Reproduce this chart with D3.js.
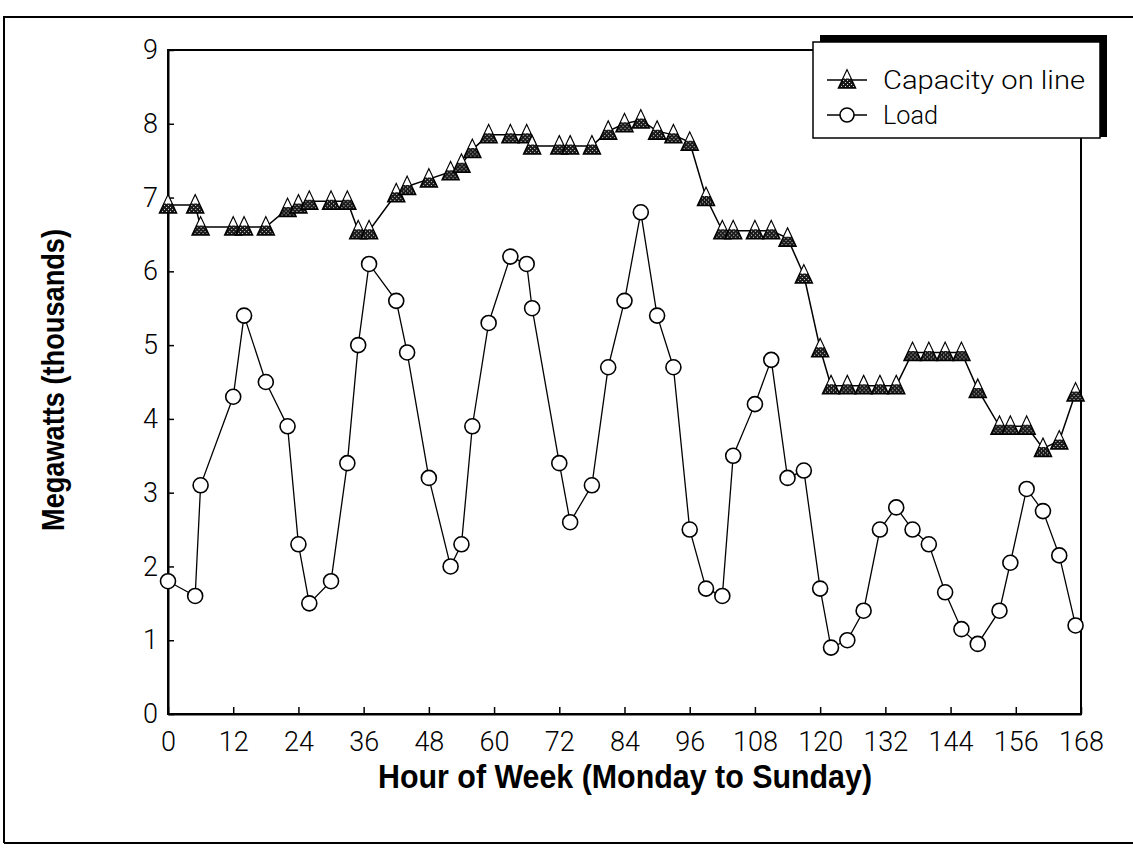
<!DOCTYPE html>
<html>
<head>
<meta charset="utf-8">
<script src="https://cdn.jsdelivr.net/npm/d3@7"></script>
<style>
  body { margin: 0; background: #fff; }
  svg { display: block; }
</style>
</head>
<body>
<div id="chart"></div>
<script>
// horas da semana (mesmas para as duas séries)
const hours = [0, 5, 6, 12, 14, 18, 22, 24, 26, 30, 33, 35, 37, 42, 44, 48, 52, 54, 56,
  59, 63, 66, 67, 72, 74, 78, 81, 84, 87, 90, 93, 96, 99, 102, 104, 108, 111, 114,
  117, 120, 122, 125, 128, 131, 134, 137, 140, 143, 146, 149, 153, 155, 158, 161, 164, 167];

const capacity = [6.9, 6.9, 6.6, 6.6, 6.6, 6.6, 6.85, 6.9, 6.95, 6.95, 6.95, 6.55, 6.55, 7.05, 7.15, 7.25, 7.35, 7.45, 7.65,
  7.85, 7.85, 7.85, 7.7, 7.7, 7.7, 7.7, 7.9, 8.0, 8.05, 7.9, 7.85, 7.75, 7.0, 6.55, 6.55, 6.55, 6.55, 6.45,
  5.95, 4.95, 4.45, 4.45, 4.45, 4.45, 4.45, 4.9, 4.9, 4.9, 4.9, 4.4, 3.9, 3.9, 3.9, 3.6, 3.7, 4.35];

const load = [1.8, 1.6, 3.1, 4.3, 5.4, 4.5, 3.9, 2.3, 1.5, 1.8, 3.4, 5.0, 6.1, 5.6, 4.9, 3.2, 2.0, 2.3, 3.9,
  5.3, 6.2, 6.1, 5.5, 3.4, 2.6, 3.1, 4.7, 5.6, 6.8, 5.4, 4.7, 2.5, 1.7, 1.6, 3.5, 4.2, 4.8, 3.2,
  3.3, 1.7, 0.9, 1.0, 1.4, 2.5, 2.8, 2.5, 2.3, 1.65, 1.15, 0.95, 1.4, 2.05, 3.05, 2.75, 2.15, 1.2];

const xTicks = [0, 12, 24, 36, 48, 60, 72, 84, 96, 108, 120, 132, 144, 156, 168];
const yTicks = [0, 1, 2, 3, 4, 5, 6, 7, 8, 9];

const seriesNames = ["Capacity on line", "Load"];
const xTitle = "Hour of Week (Monday to Sunday)";
const yTitle = "Megawatts (thousands)";

const width = 1133;
const height = 848;
const margin = { top: 50, right: 52, bottom: 134, left: 168 };
const fontTicks = "Roboto, 'Liberation Sans', sans-serif";
const fontTitle = "'Liberation Sans Narrow', 'Liberation Sans', sans-serif";

const svg = d3
  .select("#chart")
  .append("svg")
  .attr("width", width)
  .attr("height", height);

// padrão escuro pontilhado dos triângulos
const defs = svg.append("defs");
const pat = defs
  .append("pattern")
  .attr("id", "hatch")
  .attr("width", 4)
  .attr("height", 4)
  .attr("patternUnits", "userSpaceOnUse");
pat.append("rect").attr("width", 4).attr("height", 4).attr("fill", "#1a1a1a");
pat.append("rect").attr("x", 0).attr("y", 0).attr("width", 1).attr("height", 1).attr("fill", "#ddd");
pat.append("rect").attr("x", 2).attr("y", 2).attr("width", 1).attr("height", 1).attr("fill", "#ddd");

// moldura externa (digitalizada)
svg
  .append("path")
  .attr("d", `M4,843 V17 H${width}`)
  .attr("fill", "none")
  .attr("stroke", "#000")
  .attr("stroke-width", 2);
svg
  .append("line")
  .attr("x1", 4)
  .attr("x2", width)
  .attr("y1", 843)
  .attr("y2", 843)
  .attr("stroke", "#000")
  .attr("stroke-width", 2);

const x = d3
  .scaleLinear()
  .domain([0, 168])
  .range([margin.left, width - margin.right]);
const y = d3
  .scaleLinear()
  .domain([0, 9])
  .range([height - margin.bottom, margin.top]);

// caixa do gráfico
svg
  .append("rect")
  .attr("x", x(0))
  .attr("y", y(9))
  .attr("width", x(168) - x(0))
  .attr("height", y(0) - y(9))
  .attr("fill", "none")
  .attr("stroke", "#000")
  .attr("stroke-width", 2);

const xAxis = svg
  .append("g")
  .attr("transform", `translate(0,${y(0)})`)
  .call(d3.axisBottom(x).tickValues(xTicks).tickSizeInner(-7).tickSizeOuter(0).tickPadding(18));
xAxis.select(".domain").attr("stroke-width", 2);
xAxis.selectAll(".tick line").attr("stroke-width", 1.5);
xAxis
  .selectAll("text")
  .attr("font-family", fontTicks)
  .attr("font-weight", 300)
  .attr("font-size", 27)
  .attr("fill", "#000");

const yAxis = svg
  .append("g")
  .attr("transform", `translate(${x(0)},0)`)
  .call(d3.axisLeft(y).tickValues(yTicks).tickSizeInner(-6).tickSizeOuter(0).tickPadding(10));
yAxis.select(".domain").attr("stroke-width", 2);
yAxis.selectAll(".tick line").attr("stroke-width", 1.5);
yAxis
  .selectAll("text")
  .attr("font-family", fontTicks)
  .attr("font-weight", 300)
  .attr("font-size", 27)
  .attr("fill", "#000");

// títulos dos eixos
svg
  .append("text")
  .attr("x", 625)
  .attr("y", 788)
  .attr("text-anchor", "middle")
  .attr("font-family", fontTitle)
  .attr("font-weight", "bold")
  .attr("font-size", 33)
  .attr("textLength", 494)
  .attr("lengthAdjust", "spacingAndGlyphs")
  .text(xTitle);

svg
  .append("text")
  .attr("transform", "translate(64,380) rotate(-90)")
  .attr("text-anchor", "middle")
  .attr("font-family", fontTitle)
  .attr("font-weight", "bold")
  .attr("font-size", 32)
  .attr("textLength", 302)
  .attr("lengthAdjust", "spacingAndGlyphs")
  .text(yTitle);

const capData = hours.map((h, i) => ({ h: h, v: capacity[i] }));
const loadData = hours.map((h, i) => ({ h: h, v: load[i] }));

const line = d3
  .line()
  .x((d) => x(d.h))
  .y((d) => y(d.v));

svg
  .append("path")
  .datum(capData)
  .attr("d", line)
  .attr("fill", "none")
  .attr("stroke", "#000")
  .attr("stroke-width", 1.5);

svg
  .append("path")
  .datum(loadData)
  .attr("d", line)
  .attr("fill", "none")
  .attr("stroke", "#000")
  .attr("stroke-width", 1.3);

const triangle = "M0,-10 L8.5,8 L-8.5,8 Z";
const triangleCap = "M0,-9 L3.6,-1.5 L-3.6,-1.5 Z";

const drawTriangle = (sel) => {
  sel
    .append("path")
    .attr("d", triangle)
    .attr("fill", "url(#hatch)")
    .attr("stroke", "#000")
    .attr("stroke-width", 1.5)
    .attr("stroke-linejoin", "miter");
  sel.append("path").attr("d", triangleCap).attr("fill", "#fff");
};

svg
  .append("g")
  .selectAll("g")
  .data(capData)
  .enter()
  .append("g")
  .attr("transform", (d) => `translate(${x(d.h)},${y(d.v)})`)
  .call(drawTriangle);

svg
  .append("g")
  .selectAll("circle")
  .data(loadData)
  .enter()
  .append("circle")
  .attr("cx", (d) => x(d.h))
  .attr("cy", (d) => y(d.v))
  .attr("r", 7.5)
  .attr("fill", "#fff")
  .attr("stroke", "#000")
  .attr("stroke-width", 1.6);

// legenda com sombra no canto superior direito
const legend = svg.append("g").attr("transform", "translate(813,42)");
legend
  .append("rect")
  .attr("x", 7)
  .attr("y", -7)
  .attr("width", 287)
  .attr("height", 102)
  .attr("fill", "#000");
legend
  .append("rect")
  .attr("x", 0)
  .attr("y", 0)
  .attr("width", 287)
  .attr("height", 96)
  .attr("fill", "#fff")
  .attr("stroke", "#000")
  .attr("stroke-width", 1.5);

const rows = [
  { name: seriesNames[0], y: 38, w: 202 },
  { name: seriesNames[1], y: 73, w: 55 },
];

rows.forEach((r, i) => {
  legend
    .append("line")
    .attr("x1", 14)
    .attr("x2", 54)
    .attr("y1", r.y)
    .attr("y2", r.y)
    .attr("stroke", "#000")
    .attr("stroke-width", 1.4);
  if (i === 0) {
    legend.append("g").attr("transform", `translate(34,${r.y})`).call(drawTriangle);
  } else {
    legend
      .append("circle")
      .attr("cx", 34)
      .attr("cy", r.y)
      .attr("r", 7)
      .attr("fill", "#fff")
      .attr("stroke", "#000")
      .attr("stroke-width", 1.6);
  }
  legend
    .append("text")
    .attr("x", 70)
    .attr("y", r.y)
    .attr("dy", "0.36em")
    .attr("font-family", fontTicks)
    .attr("font-weight", 300)
    .attr("font-size", 26)
    .attr("textLength", r.w)
    .attr("lengthAdjust", "spacingAndGlyphs")
    .text(r.name);
});
</script>
</body>
</html>
